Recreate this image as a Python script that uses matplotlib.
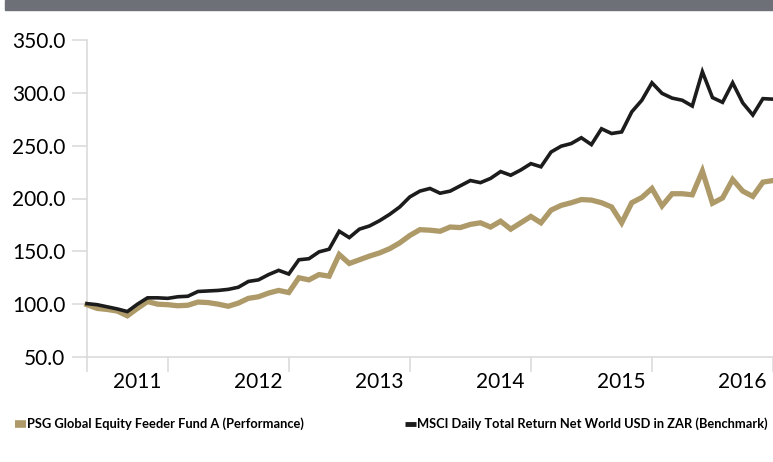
import matplotlib
matplotlib.use("Agg")
import matplotlib.pyplot as plt
from matplotlib.lines import Line2D
import numpy as np

# monthly index values, rebased to 100
fund = [99.5, 96, 95, 93.5, 89, 96, 102.5, 100, 99.5, 98.5, 99, 102, 101.5, 100, 98, 101,
        105.5, 107, 110.5, 113, 111, 125, 123, 128, 126.5, 147, 138.5, 142, 145.5, 148.5,
        152.5, 158, 165, 170.5, 170, 169, 173, 172.5, 175.5, 177, 173, 178.5, 171, 177,
        183, 177, 189, 193.5, 196, 199, 198.5, 196, 192, 177, 196, 201, 209.5, 193, 204.5,
        204.5, 203.5, 226, 195.5, 200.5, 218, 207, 202, 215.5, 217]
bench = [100.5, 99.5, 97.5, 95.5, 93, 100, 106, 106, 105.5, 107, 107.5, 112, 112.5, 113,
         114, 116, 121.5, 123, 128, 132, 128.5, 142, 143, 149.5, 152, 169, 163, 171, 174,
         179, 185, 192, 201.5, 207, 209.5, 205, 207, 212, 217, 215, 219, 225.5, 222, 227,
         233, 230, 244, 249.5, 252, 257.5, 251, 266, 261.5, 263, 282, 293, 309.5, 299.5,
         295, 293, 287.5, 320, 295.5, 291, 309.5, 290.5, 279, 294.5, 294]
years = ["2011", "2012", "2013", "2014", "2015", "2016"]
year_ticks = [0, 8, 20, 32, 44, 56, 68]
label_pos = [5, 17, 29, 41, 53, 65]
yticks = [50, 100, 150, 200, 250, 300, 350]

fund_name = "PSG Global Equity Feeder Fund A (Performance)"
bench_name = "MSCI Daily Total Return Net World USD in ZAR (Benchmark)"

GOLD = "#ae9a68"
BLACK = "#1c1c1c"
GRID = "#d9d9d9"

plt.rcParams["font.family"] = ["Lato", "DejaVu Sans"]

fig = plt.figure(figsize=(7.73, 4.62), dpi=100)
# header band
fig.patches.append(plt.Rectangle((5 / 773, 1 - 10 / 462), 1, 10 / 462, transform=fig.transFigure,
                                 color="#6e7078", zorder=0))

ax = fig.add_axes([87 / 773, 1 - 357 / 462, 686 / 773, 317 / 462])
x = np.arange(len(fund))
ax.plot(x, fund, color=GOLD, lw=3.8, solid_joinstyle="miter", clip_on=False, zorder=3)
ax.plot(x, bench, color=BLACK, lw=2.6, solid_joinstyle="miter", clip_on=False, zorder=4)

ax.set_xlim(0, 68)
ax.set_ylim(50, 350)
ax.set_yticks(yticks)
ax.set_yticklabels(["%.1f" % v for v in yticks], fontsize=15)
ax.set_xticks(year_ticks)
ax.set_xticklabels([])
ax.set_xticks(label_pos, minor=True)
ax.set_xticklabels(years, minor=True, fontsize=15)
ax.tick_params(axis="x", which="major", length=10.5, width=1.1, color=GRID)
ax.tick_params(axis="x", which="minor", length=0, pad=11)
ax.tick_params(axis="y", length=10.5, width=1.1, color=GRID, pad=5)

for s in ["top", "right"]:
    ax.spines[s].set_visible(False)
for s in ["left", "bottom"]:
    ax.spines[s].set_color(GRID)
    ax.spines[s].set_linewidth(1.1)

h1 = Line2D([], [], color=GOLD, lw=5.5, solid_capstyle="butt")
h2 = Line2D([], [], color=BLACK, lw=3.5, solid_capstyle="butt")
leg_kw = dict(frameon=False, handlelength=0.85, handletextpad=0.1, borderaxespad=0,
              prop={"weight": "bold", "size": 9.3}, loc="center left")
fig.legend([h1], [fund_name], bbox_to_anchor=(10 / 773, 1 - 424 / 462), **leg_kw)
fig.legend([h2], [bench_name], bbox_to_anchor=(400 / 773, 1 - 424 / 462), **leg_kw)

fig.savefig("out.png", dpi=100)
